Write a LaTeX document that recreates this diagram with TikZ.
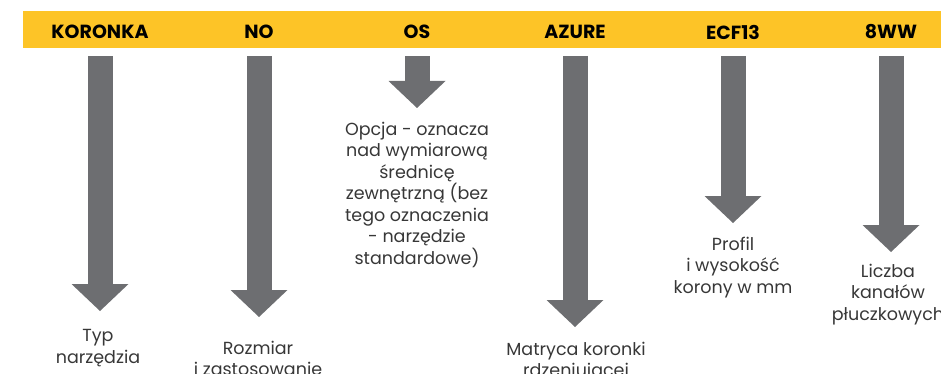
\documentclass[tikz,border=0pt]{standalone}
\usepackage{fontspec}
\setmainfont{Poppins}
\usetikzlibrary{arrows.meta}

\definecolor{bandyellow}{RGB}{253,196,39}
\definecolor{arrowgray}{RGB}{109,110,113}
\definecolor{textgray}{RGB}{55,55,55}

\tikzset{
  header/.style={font=\fontsize{19}{22}\selectfont\bfseries, text=black, inner sep=0pt},
  desc/.style={font=\fontsize{17.5}{21.5}\selectfont, text=textgray, align=center, inner sep=0pt, anchor=north},
  bigarrow/.style={draw=arrowgray, line width=25pt, -{Triangle[width=57pt,length=27pt,line width=0pt]}, shorten <=17pt}
}

\begin{document}
\begin{tikzpicture}[x=1pt,y=-1pt]
\useasboundingbox (0,0) rectangle (941,374);
\clip (0,0) rectangle (941,374);

% 黄色标题栏
\fill[bandyellow] (23,11) rectangle (941,48);

% 标题
\node[header] (hKoronka) at (100,32) {KORONKA};
\node[header] (hNo)      at (259,32) {NO};
\node[header] (hOs)      at (417,32) {OS};
\node[header] (hAzure)   at (575,32) {AZURE};
\node[header] (hEcf)     at (733,32) {ECF13};
\node[header] (hWw)      at (891,32) {8WW};

% 说明文字
\node[desc] (dKoronka) at (98,329.5)  {Typ\\narzędzia};
\node[desc] (dNo)      at (258,340.5) {Rozmiar\\i zastosowanie};
\node[desc] (dOs)      at (417,121.5) {Opcja - oznacza\\nad wymiarową\\średnicę\\zewnętrzną (bez\\tego oznaczenia\\- narzędzie\\standardowe)};
\node[desc] (dAzure)   at (576,341.5) {Matryca koronki\\rdzeniującej};
\node[desc] (dEcf)     at (733,236.5) {Profil\\i wysokość\\korony w mm};
\node[desc] (dWw)      at (888,263.5) {Liczba\\kanałów\\płuczkowych};

% 箭头
\foreach \n/\g in {Koronka/18.5, No/23.5, Os/13.5, Azure/14.5, Ecf/13.5, Ww/11.5} {
    \draw[bigarrow, shorten >=\g pt] (h\n.south) -- (h\n.south |- d\n.north);
}

\end{tikzpicture}
\end{document}
